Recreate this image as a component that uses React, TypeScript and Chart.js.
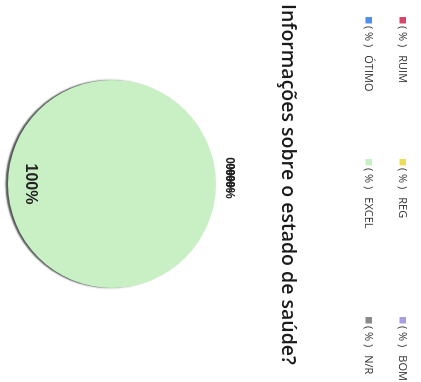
import React, { useEffect, useRef } from "react";
import { Chart, registerables } from "chart.js";

Chart.register(...registerables);

// ---- data ----
const categories = ["RUIM", "REG", "BOM", "ÓTIMO", "EXCEL", "N/R"];
const percentValues = [0, 0, 0, 0, 100, 0];
const sliceColors = ["#d8456a", "#ecdc58", "#a89de0", "#4f8fe8", "#c8f0c4", "#8a8a8a"];
const legendPrefix = "( % )";
const titleText = "Informações sobre o estado de saúde?";

// unrotated canvas size (the whole chart is shown turned 90° clockwise)
const CW = 382;
const CH = 421;

const decorPlugin = {
  id: "decor",
  beforeDatasetDraw(chart: any) {
    const ctx = chart.ctx;
    ctx.save();
    ctx.shadowColor = "rgba(55,60,60,0.85)";
    ctx.shadowOffsetX = 0;
    ctx.shadowOffsetY = 2.5;
    ctx.shadowBlur = 1.5;
  },
  afterDatasetDraw(chart: any) {
    chart.ctx.restore();
  },
  afterDraw(chart: any) {
    const ctx = chart.ctx;
    const labels = chart.data.labels as string[];
    const ds = chart.data.datasets[0];
    const colors = ds.backgroundColor as string[];

    // title
    ctx.save();
    ctx.fillStyle = "#1a1a1a";
    ctx.font = "600 19.5px 'Open Sans', sans-serif";
    ctx.textAlign = "left";
    ctx.textBaseline = "middle";
    ctx.fillText(titleText, 4, 133);
    ctx.restore();

    // legend (3 columns x 2 rows)
    const colU = [17, 159, 317];
    const rowV = [18.5, 52.5];
    ctx.save();
    ctx.font = "11px 'Open Sans', sans-serif";
    ctx.textBaseline = "middle";
    ctx.textAlign = "left";
    labels.forEach((lab, i) => {
      const u = colU[i % 3];
      const v = rowV[Math.floor(i / 3)];
      ctx.fillStyle = colors[i];
      ctx.fillRect(u, v - 3.5, 6.5, 6.5);
      ctx.fillStyle = "#333";
      ctx.fillText(legendPrefix, u + 9, v);
      const pw = ctx.measureText(legendPrefix).width;
      ctx.fillText(lab, u + 9 + pw + 8, v);
    });
    ctx.restore();

    // data labels
    const meta = chart.getDatasetMeta(0);
    const values = ds.data as number[];
    const total = values.reduce((a, b) => a + b, 0);
    let zeroIdx = 0;
    ctx.save();
    ctx.fillStyle = "#222";
    ctx.textBaseline = "middle";
    ctx.textAlign = "center";
    meta.data.forEach((arc: any, i: number) => {
      const p = arc.getProps(["x", "y", "startAngle", "endAngle", "outerRadius"], true);
      const pct = Math.round((values[i] / total) * 100) + "%";
      const mid = (p.startAngle + p.endAngle) / 2;
      if (values[i] > 0) {
        const r = p.outerRadius * 0.78;
        ctx.font = "bold 16px 'Liberation Sans Narrow', 'Liberation Sans', sans-serif";
        ctx.fillText(pct, p.x + Math.cos(mid) * r, p.y + Math.sin(mid) * r);
      } else {
        const r = p.outerRadius * 1.13;
        ctx.font = "bold 12px 'Liberation Sans Narrow', 'Liberation Sans', sans-serif";
        ctx.fillText(pct, p.x + Math.cos(mid) * r + (zeroIdx - 2) * 6 - 6, p.y + Math.sin(mid) * r);
        zeroIdx++;
      }
    });
    ctx.restore();
  },
};

export default function App() {
  const ref = useRef<HTMLCanvasElement | null>(null);

  useEffect(() => {
    if (!ref.current) return;
    const chart = new Chart(ref.current, {
      type: "pie",
      data: {
        labels: categories,
        datasets: [
          {
            data: percentValues,
            backgroundColor: sliceColors,
            borderWidth: 0,
            clip: false as any,
          },
        ],
      },
      options: {
        responsive: false,
        animation: false,
        devicePixelRatio: 1,
        layout: { padding: { top: 205, bottom: 8, left: 80, right: 94 } },
        plugins: {
          legend: { display: false },
          title: { display: false },
          tooltip: { enabled: false },
        },
      },
      plugins: [decorPlugin],
    });
    return () => chart.destroy();
  }, []);

  return (
    <div
      style={{
        position: "fixed",
        left: 0,
        top: 0,
        width: 421,
        height: 382,
        overflow: "hidden",
        background: "#ffffff",
      }}
    >
      <div
        style={{
          position: "absolute",
          left: 0,
          top: 0,
          width: CW,
          height: CH,
          transformOrigin: "0 0",
          transform: "translateX(421px) rotate(90deg)",
        }}
      >
        <canvas ref={ref} width={CW} height={CH} style={{ display: "block" }} />
      </div>
    </div>
  );
}
